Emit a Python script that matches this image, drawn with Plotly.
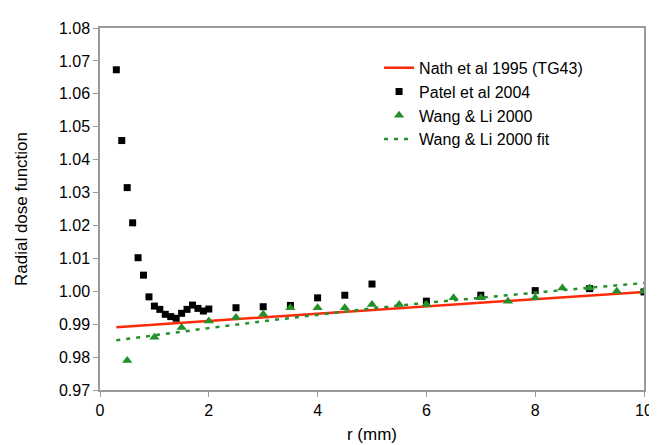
import plotly.graph_objects as go

# Nath et al 1995 (TG43)
nath_r = [0.3, 10]
nath_g = [0.9891, 0.9998]

# Patel et al 2004
patel_r = [0.3, 0.4, 0.5, 0.6, 0.7, 0.8, 0.9, 1.0, 1.1, 1.2, 1.3, 1.4, 1.5, 1.6, 1.7, 1.8, 1.9, 2.0,
           2.5, 3.0, 3.5, 4.0, 4.5, 5.0, 6.0, 7.0, 8.0, 9.0, 10.0]
patel_g = [1.0673, 1.0458, 1.0315, 1.0208, 1.0102, 1.0049, 0.9983, 0.9955, 0.9945, 0.9930, 0.9923,
           0.9918, 0.9933, 0.9945, 0.9958, 0.9948, 0.9940, 0.9946,
           0.9950, 0.9953, 0.9957, 0.9980, 0.9988, 1.0022, 0.9970, 0.9988, 1.0002, 1.0008, 0.9998]

# Wang & Li 2000
wang_r = [0.5, 1.0, 1.5, 2.0, 2.5, 3.0, 3.5, 4.0, 4.5, 5.0, 5.5, 6.0, 6.5, 7.0, 7.5, 8.0, 8.5, 9.0, 9.5, 10.0]
wang_g = [0.9790, 0.9860, 0.9890, 0.9910, 0.9920, 0.9930, 0.9950, 0.9950, 0.9950, 0.9960, 0.9960,
          0.9960, 0.9980, 0.9980, 0.9970, 0.9980, 1.0010, 1.0010, 1.0000, 1.0000]

# Wang & Li 2000 fit
fit_r = [0.3, 1, 2, 3, 4, 5, 6, 7, 8, 9, 10]
fit_g = [0.9851, 0.9867, 0.9888, 0.9909, 0.9929, 0.9948, 0.9965, 0.9981, 0.9996, 1.0011, 1.0025]

x_ticks = [0, 2, 4, 6, 8, 10]

RED = "#FF2A0A"
GREEN = "#23902A"
FONT = "Liberation Sans, Arial, sans-serif"

fig = go.Figure()
fig.add_trace(go.Scatter(x=nath_r, y=nath_g, mode="lines", name="Nath et al 1995 (TG43)",
                         line=dict(color=RED, width=2.5)))
fig.add_trace(go.Scatter(x=patel_r, y=patel_g, mode="markers", name="Patel et al 2004",
                         marker=dict(symbol="square", size=7, color="black")))
fig.add_trace(go.Scatter(x=wang_r, y=wang_g, mode="markers", name="Wang & Li 2000",
                         marker=dict(symbol="triangle-up", size=9, color=GREEN)))
fig.add_trace(go.Scatter(x=fit_r, y=fit_g, mode="lines", name="Wang & Li 2000 fit",
                         line=dict(color=GREEN, width=2.5, dash="4px,6px")))

axis_common = dict(showgrid=False, zeroline=False, showline=True, linecolor="#9a9a9a", linewidth=1.5,
                   mirror=True, ticks="outside", tickcolor="#9a9a9a", ticklen=5, tickwidth=1,
                   tickfont=dict(size=16, color="black", family=FONT))

fig.update_xaxes(range=[0, 10], tickvals=x_ticks, title=dict(text="r (mm)", font=dict(size=17, color="black"), standoff=10),
                 **axis_common)
fig.update_yaxes(range=[0.97, 1.08], dtick=0.01, tick0=0.97, tickformat=".2f",
                 title=dict(text="Radial dose function", font=dict(size=17, color="black"), standoff=27),
                 **axis_common)

fig.update_layout(
    width=657, height=445,
    margin=dict(l=92, r=13, t=19, b=59),
    paper_bgcolor="white", plot_bgcolor="white",
    font=dict(family=FONT, size=16, color="black"),
    showlegend=True,
    legend=dict(x=0.513, y=0.937, xanchor="left", yanchor="top", bgcolor="rgba(0,0,0,0)",
                font=dict(size=16, color="black"), itemwidth=30, tracegroupgap=0),
)

fig.write_html("out.html")
